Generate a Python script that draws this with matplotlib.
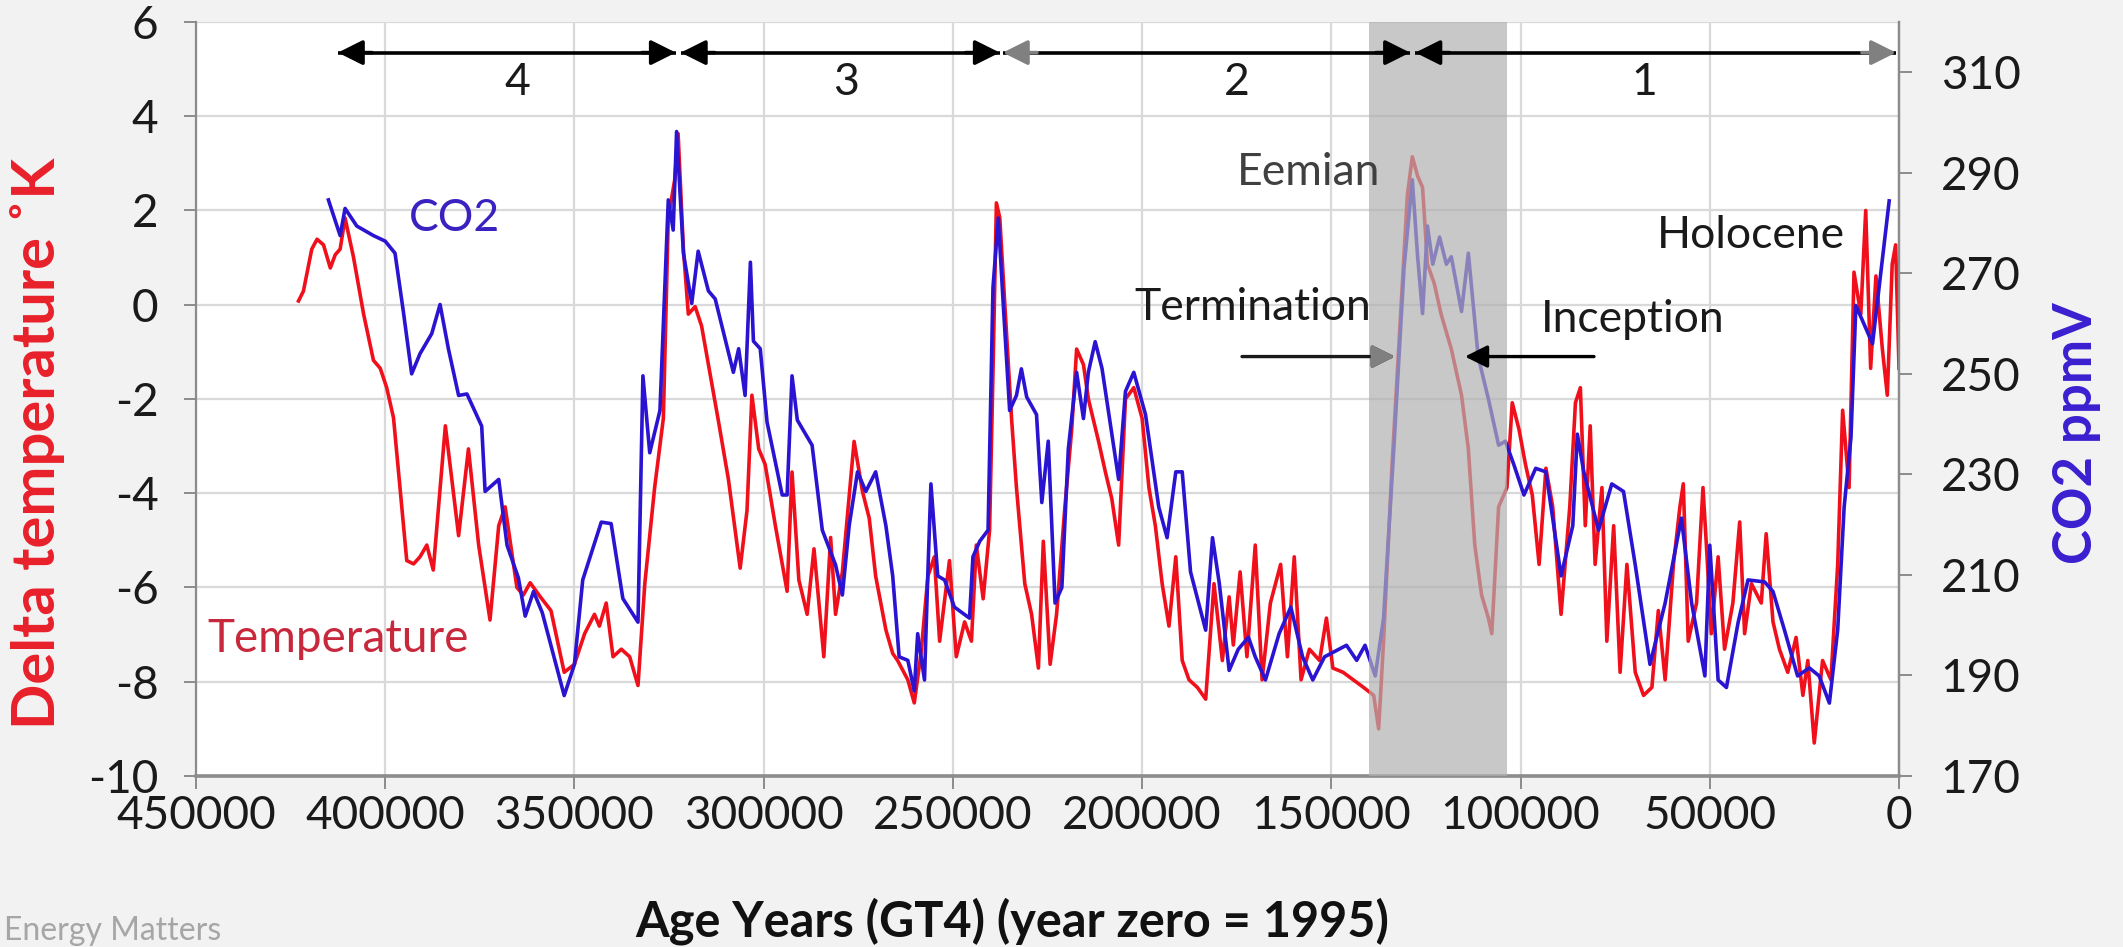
import matplotlib
matplotlib.use("Agg")
import matplotlib.pyplot as plt
from matplotlib.ticker import FuncFormatter
import numpy as np

# temperature (years before 1995, delta K)
temp_age = [422900, 421600, 419400, 418000, 416300, 414500, 413200, 411900, 410600, 408400,
            405700, 403100, 401300, 399600, 397800, 396100, 394300, 392500, 390800, 389000,
            387300, 384100, 380600, 378000, 375300, 372300, 370000, 368300, 365200, 363500,
            361700, 359000, 356200, 352700, 350000, 347300, 344700, 343400, 341600, 339800,
            337600, 335400, 333200, 331400, 328800, 326500, 325200, 323500, 322600, 321200,
            319900, 318100, 316400, 314600, 311900, 309300, 306200, 304400, 303100, 301300,
            299600, 296900, 293800, 292500, 290700, 288500, 286700, 284100, 282300, 281000,
            279200, 276100, 273900, 272100, 270400, 267700, 265900, 264600, 261900, 260200,
            258400, 256600, 254900, 253500, 250900, 249100, 246900, 245100, 243800, 242000,
            240300, 239400, 238500, 237600, 236300, 234500, 233200, 231000, 229200, 227400,
            226100, 224300, 222600, 220400, 218600, 217300, 215500, 214200, 211500, 209700,
            208000, 206200, 204400, 202200, 200000, 198200, 196500, 194700, 192900, 191100,
            189400, 187600, 185400, 183200, 181000, 178800, 177000, 175900, 174100, 172300,
            170100, 168300, 166100, 163400, 161600, 159800, 158000, 155800, 153100, 151300,
            149600, 146900, 144200, 141500, 138800, 137500, 136200, 133900, 131700, 129900,
            128600, 127200, 125900, 124600, 122800, 121000, 118300, 115600, 113800, 112100,
            110300, 108500, 107600, 105800, 103600, 102200, 100400, 98700, 96900, 95100,
            93300, 91500, 89300, 87000, 85500, 84200, 82900, 81600, 80300, 78500,
            77200, 75400, 73700, 71900, 69700, 67500, 65300, 63600, 61800, 59600,
            57900, 57000, 55700, 53500, 51800, 50900, 49600, 47800, 46100, 43900,
            42100, 40800, 39000, 36400, 35100, 33300, 31600, 29400, 27200, 25400,
            24100, 22400, 20200, 18000, 16200, 14900, 13200, 11900, 10100, 8800,
            7500, 6100, 4400, 3100, 1800, 900, 0]
temp_val = [0.08, 0.29, 1.18, 1.39, 1.27, 0.78, 1.06, 1.18, 1.84, 1.02,
            -0.2, -1.18, -1.35, -1.76, -2.4, -3.88, -5.43, -5.5, -5.35, -5.1,
            -5.63, -2.57, -4.9, -3.06, -5.1, -6.69, -4.69, -4.29, -6.0, -6.16,
            -5.9, -6.2, -6.49, -7.8, -7.63, -6.98, -6.57, -6.82, -6.33, -7.47,
            -7.31, -7.47, -8.08, -5.92, -3.88, -2.41, 1.84, 2.65, 3.63, 1.18,
            -0.2, -0.04, -0.45, -1.27, -2.49, -3.71, -5.59, -4.37, -1.92, -3.06,
            -3.39, -4.69, -6.08, -3.55, -5.84, -6.57, -5.18, -7.47, -4.94, -6.57,
            -5.67, -2.9, -3.96, -4.53, -5.76, -6.9, -7.4, -7.55, -7.96, -8.45,
            -7.39, -5.76, -5.35, -7.14, -5.43, -7.47, -6.73, -7.14, -5.1, -6.24,
            -4.78, -1.43, 2.16, 1.84, 0.04, -2.41, -3.88, -5.92, -6.57, -7.71,
            -5.02, -7.63, -6.57, -4.29, -2.65, -0.94, -1.27, -2.0, -2.9, -3.55,
            -4.12, -5.1, -2.0, -1.76, -2.41, -3.88, -4.69, -5.92, -6.82, -5.35,
            -7.55, -7.96, -8.12, -8.37, -5.92, -7.55, -6.2, -7.22, -5.67, -7.47,
            -5.1, -7.96, -6.33, -5.51, -7.47, -5.35, -7.96, -7.31, -7.55, -6.65,
            -7.71, -7.8, -7.96, -8.12, -8.29, -9.0, -7.14, -3.31, -0.2, 2.33,
            3.14, 2.73, 2.49, 0.86, 0.45, -0.2, -0.94, -1.92, -3.06, -5.1,
            -6.16, -6.65, -6.98, -4.29, -3.88, -2.08, -2.65, -3.39, -4.04, -5.51,
            -3.47, -4.29, -6.57, -4.29, -2.08, -1.76, -4.69, -2.57, -5.51, -3.88,
            -7.14, -4.69, -7.8, -5.51, -7.8, -8.29, -8.12, -6.49, -7.96, -5.51,
            -4.29, -3.8, -7.14, -6.33, -3.88, -5.1, -6.98, -5.35, -7.31, -6.33,
            -4.61, -6.98, -5.92, -6.33, -4.86, -6.73, -7.31, -7.8, -7.06, -8.29,
            -7.55, -9.3, -7.55, -7.96, -5.51, -2.24, -3.88, 0.69, -0.2, 2.0,
            -1.35, 0.61, -0.94, -1.92, 0.86, 1.27, -1.35]

# CO2 (years before 1995, ppmV)
co2_age = [415000, 411900, 410600, 407500, 403100, 400000, 397400, 395200, 393000, 390800,
           387700, 385500, 383300, 380600, 378400, 374500, 373600, 370000, 367800, 364800,
           363000, 360800, 358500, 352700, 350000, 347800, 342900, 340300, 337200, 333200,
           331900, 330100, 327400, 325200, 323900, 323000, 321200, 319000, 317300, 314600,
           312800, 308000, 306600, 304900, 303500, 302700, 300900, 299100, 295100, 293800,
           292500, 291100, 287200, 284500, 281000, 279200, 277400, 275200, 273000, 270400,
           267700, 265900, 264200, 261900, 260200, 259300, 257500, 256600, 255800, 254000,
           252200, 249600, 245600, 244700, 242900, 240700, 239400, 238000, 236700, 235000,
           233200, 231900, 230500, 227900, 226500, 224800, 223000, 221200, 219500, 217300,
           215500, 214200, 212400, 210600, 206200, 204400, 202200, 199100, 195600, 193400,
           191100, 189400, 187200, 183200, 181400, 179600, 177000, 174600, 171900, 170100,
           167400, 163800, 160700, 157600, 154900, 151800, 146000, 143300, 141100, 138400,
           136200, 133500, 130800, 128600, 127200, 125900, 124600, 123200, 121400, 119600,
           118300, 115600, 113800, 111200, 108500, 105800, 104000, 101800, 99100, 96000,
           93300, 89300, 86200, 85000, 83300, 79400, 75900, 72800, 69700, 65800,
           61800, 57500, 54800, 51300, 50000, 47800, 45600, 42500, 39900, 35500,
           33300, 30300, 26800, 23700, 21100, 18400, 16200, 14500, 12700, 11400,
           9200, 7000, 4800, 2600]
co2_val = [284.6, 277.5, 282.9, 279.4, 277.5, 276.4, 274.0, 262.4, 250.0, 254.0,
           258.0, 263.8, 255.0, 245.7, 246.0, 239.6, 226.6, 229.0, 215.9, 209.4,
           201.8, 206.7, 202.5, 186.0, 192.2, 209.0, 220.5, 220.2, 205.3, 200.6,
           249.6, 234.3, 242.7, 284.6, 278.6, 298.2, 274.0, 264.0, 274.4, 266.5,
           264.9, 250.3, 255.0, 245.7, 272.2, 256.5, 255.0, 240.4, 225.9, 225.9,
           249.6, 240.8, 235.8, 218.9, 212.0, 206.0, 219.8, 230.5, 226.6, 230.5,
           219.8, 209.8, 193.7, 193.0, 186.9, 198.3, 189.1, 210.6, 228.1, 209.8,
           209.0, 203.6, 201.4, 213.6, 216.7, 218.9, 267.2, 281.0, 264.0, 242.7,
           245.7, 251.0, 245.4, 241.9, 224.4, 236.6, 204.4, 207.5, 235.0, 250.3,
           241.1, 250.3, 256.4, 251.1, 229.0, 246.5, 250.3, 241.9, 223.5, 217.4,
           230.5, 230.5, 210.6, 199.0, 217.4, 208.3, 191.0, 195.2, 197.6, 193.7,
           189.1, 198.3, 203.6, 193.7, 189.1, 193.7, 196.0, 193.0, 196.0, 189.9,
           201.4, 235.0, 271.0, 288.6, 273.3, 262.0, 279.4, 271.8, 277.2, 271.8,
           273.3, 262.4, 274.0, 253.4, 245.0, 235.8, 236.6, 232.0, 225.9, 231.2,
           230.5, 209.8, 219.8, 238.0, 230.5, 218.9, 228.1, 226.6, 212.0, 192.2,
           204.4, 221.3, 204.4, 189.9, 215.9, 189.1, 187.6, 200.6, 209.0, 208.6,
           206.7, 199.1, 189.9, 191.5, 189.9, 184.5, 199.1, 223.5, 237.3, 263.6,
           259.8, 256.0, 270.2, 284.4]

# glacial cycles (start, end in years) and labels
cycle_start = [412500, 321900, 236800, 127800]
cycle_end = [323200, 237600, 129200, 800]
cycle_label = ["4", "3", "2", "1"]
cycle_label_x = [365000, 278300, 175000, 67400]
head_left = ["black", "black", "#808080", "black"]
head_right = ["black", "black", "black", "#808080"]

eemian = (140000, 103500)

plt.rcParams['font.family'] = ['Lato', 'DejaVu Sans']
plt.rcParams['axes.unicode_minus'] = False

fig = plt.figure(figsize=(21.23, 9.47), dpi=100, facecolor='#f2f2f2')
ax = fig.add_axes([0.0923, 0.1806, 0.8022, 0.7962])
ax.set_facecolor('white')
ax2 = ax.twinx()

ax.plot(temp_age, temp_val, color='#f0101c', lw=2.6, zorder=2)
ax2.plot(co2_age, co2_val, color='#2a14d2', lw=2.6, zorder=2)

ax.set_xlim(450000, 0)
ax.set_ylim(-10, 6)
ax2.set_ylim(170, 320)
ax.set_xticks(np.arange(0, 450001, 50000))
ax.set_yticks(np.arange(-10, 7, 2))
ax2.set_yticks(np.arange(170, 311, 20))
ax.xaxis.set_major_formatter(FuncFormatter(lambda v, p: '%d' % v))

ax.grid(True, color='#d9d9d9', lw=1.6)
ax.set_axisbelow(True)

for a in (ax, ax2):
    for s in a.spines.values():
        s.set_color('#8c8c8c')
        s.set_linewidth(1.6)
    a.spines['top'].set_visible(False)
ax.spines['bottom'].set_linewidth(2.6)
ax2.spines['bottom'].set_visible(False)
ax2.spines['left'].set_visible(False)

ax.tick_params(axis='both', labelsize=33, colors='#8c8c8c', labelcolor='#1a1a1a',
               length=9, width=1.4)
ax.tick_params(axis='x', pad=5)
ax.tick_params(axis='y', pad=18)
ax2.tick_params(axis='y', labelsize=33, colors='#8c8c8c', labelcolor='#1a1a1a',
                length=9, width=1.4, pad=21)

# shaded Eemian band, over the curves
ax2.axvspan(eemian[0], eemian[1], color='#b1b1b1', alpha=0.7, lw=0, zorder=3)

tr = ax.transData
y_arrow = 5.35
for i in range(len(cycle_start)):
    x0, x1 = cycle_start[i], cycle_end[i]
    ax2.plot([x0, x1], [y_arrow, y_arrow], color='black', lw=2.6, transform=tr,
             zorder=5, solid_capstyle='butt')
    ax2.annotate('', xy=(x0, y_arrow), xytext=(x0 - 9000, y_arrow),
                 xycoords=tr, textcoords=tr, zorder=6,
                 arrowprops=dict(arrowstyle='-|>', color=head_left[i], lw=2.6,
                                 mutation_scale=38, shrinkA=0, shrinkB=0))
    ax2.annotate('', xy=(x1, y_arrow), xytext=(x1 + 9000, y_arrow),
                 xycoords=tr, textcoords=tr, zorder=6,
                 arrowprops=dict(arrowstyle='-|>', color=head_right[i], lw=2.6,
                                 mutation_scale=38, shrinkA=0, shrinkB=0))
    ax2.text(cycle_label_x[i], 4.72, cycle_label[i], transform=tr, fontsize=32,
             ha='center', va='center', color='#1a1a1a', zorder=6)

ax2.text(381600, 1.84, 'CO2', transform=tr, fontsize=32, color='#3a22c0',
         ha='center', va='center', zorder=6)
ax2.text(412500, -7.1, 'Temperature', transform=tr, fontsize=33, color='#c8283c',
         ha='center', va='center', zorder=6)
ax2.text(155900, 2.8, 'Eemian', transform=tr, fontsize=32, color='#404040',
         ha='center', va='center', zorder=6)
ax2.text(170700, -0.05, 'Termination', transform=tr, fontsize=32, color='#1a1a1a',
         ha='center', va='center', zorder=6)
ax2.text(70500, -0.32, 'Inception', transform=tr, fontsize=32, color='#1a1a1a',
         ha='center', va='center', zorder=6)
ax2.text(39100, 1.47, 'Holocene', transform=tr, fontsize=32, color='#1a1a1a',
         ha='center', va='center', zorder=6)

ax2.annotate('', xy=(133200, -1.1), xytext=(173600, -1.1), xycoords=tr, textcoords=tr,
             zorder=6, arrowprops=dict(arrowstyle='-|>', color='#1a1a1a', lw=2.4,
                                       mutation_scale=34, shrinkA=0, shrinkB=0))
ax2.annotate('', xy=(133200, -1.1), xytext=(138500, -1.1), xycoords=tr, textcoords=tr,
             zorder=7, arrowprops=dict(arrowstyle='-|>', color='#808080', lw=2.4,
                                       mutation_scale=34, shrinkA=0, shrinkB=0))
ax2.annotate('', xy=(114700, -1.1), xytext=(80600, -1.1), xycoords=tr, textcoords=tr,
             zorder=6, arrowprops=dict(arrowstyle='-|>', color='black', lw=2.4,
                                       mutation_scale=34, shrinkA=0, shrinkB=0))

fig.text(0.0175, 0.532, 'Delta temperature \u02daK', rotation=90, fontsize=43,
         fontweight='bold', color='#e8202a', ha='center', va='center')
fig.text(0.978, 0.543, 'CO2 ppmV', rotation=90, fontsize=38, fontweight='bold',
         color='#3a1fd0', ha='center', va='center')
fig.text(0.477, 0.027, 'Age Years (GT4) (year zero = 1995)', fontsize=35,
         fontweight='bold', color='#111111', ha='center', va='center')
fig.text(0.002, 0.001, 'Energy Matters', fontsize=23, color='#a6a6a6',
         ha='left', va='bottom')

fig.savefig('out.png', dpi=100, facecolor=fig.get_facecolor())
